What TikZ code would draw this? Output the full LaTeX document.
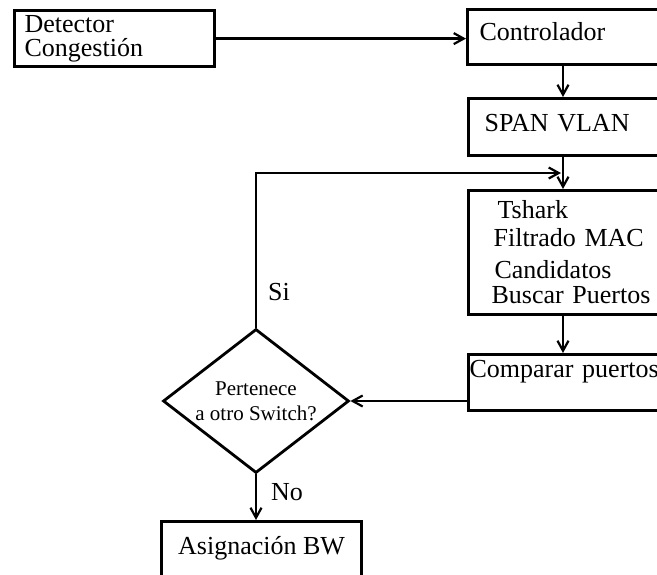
\documentclass[tikz,border=0pt]{standalone}
\usepackage{fontspec}
\setmainfont{Liberation Serif}
\usetikzlibrary{shapes.geometric, arrows.meta}

\tikzset{
  box/.style={draw, rectangle, line width=3.2pt, anchor=north west, inner ysep=0pt, align=left, font=\fontsize{26}{24}\selectfont},
  decision/.style={draw, diamond, line width=2.8pt, aspect=1.29, minimum width=186pt, minimum height=144pt, inner sep=0pt, align=center, font=\fontsize{21}{25}\selectfont},
  arr/.style={line width=2.8pt, -{Straight Barb[length=10pt,width=11pt,line width=2.2pt]}},
  lbl/.style={font=\fontsize{26}{24}\selectfont, inner sep=0pt}
}

\begin{document}
\begin{tikzpicture}[x=1pt, y=-1pt]
\useasboundingbox (0,0) rectangle (657,574);
% x of the right column of boxes
\coordinate (colx) at (563,0);

% Boxes
\node[box, inner xsep=10pt, text width=180pt, minimum height=56pt] (det) at (13,9) {Detector\\Congestión};
\node[box, inner xsep=12pt, text width=200pt, text height=31pt, text depth=24pt] (ctl) at (466,8) {Controlador};
\node[box, inner xsep=16pt, text width=200pt, text height=33pt, text depth=24pt] (span) at (467,97) {SPAN VLAN};
\node[box, inner xsep=23pt, text width=200pt, minimum height=124pt] (tsh) at (467,189) {\hspace*{6pt}Tshark\\[4pt]\hspace*{2pt}Filtrado MAC\\[8pt]\hspace*{3pt}Candidatos\\[1pt]Buscar Puertos};
\node[box, inner xsep=1pt, text width=200pt, text height=23pt, text depth=33pt] (cmp) at (467,353) {Comparar puertos};
\node[decision] (dia) at (256,401) {Pertenece\\a otro Switch?};
\node[box, minimum width=200pt, text height=33pt, text depth=27pt] (asg) at (160,520) {Asignación BW};

% Connectors
\draw[arr] (det.east) -- (det.east -| ctl.west);
\draw[arr] (ctl.south -| colx) -- (span.north -| colx);
\draw[arr] (span.south -| colx) -- (tsh.north -| colx);
\coordinate (merge) at (561,173);
\draw[arr] (dia.north) |- (merge);
\draw[arr] (tsh.south -| colx) -- (cmp.north -| colx);
\draw[arr] (dia.east -| cmp.west) -- (dia.east);
\draw[arr] (dia.south) -- (dia.south |- asg.north);

% Labels
\node[lbl] (si) at (279,292) {Si};
\node[lbl] (no) at (287,492) {No};
\end{tikzpicture}
\end{document}
